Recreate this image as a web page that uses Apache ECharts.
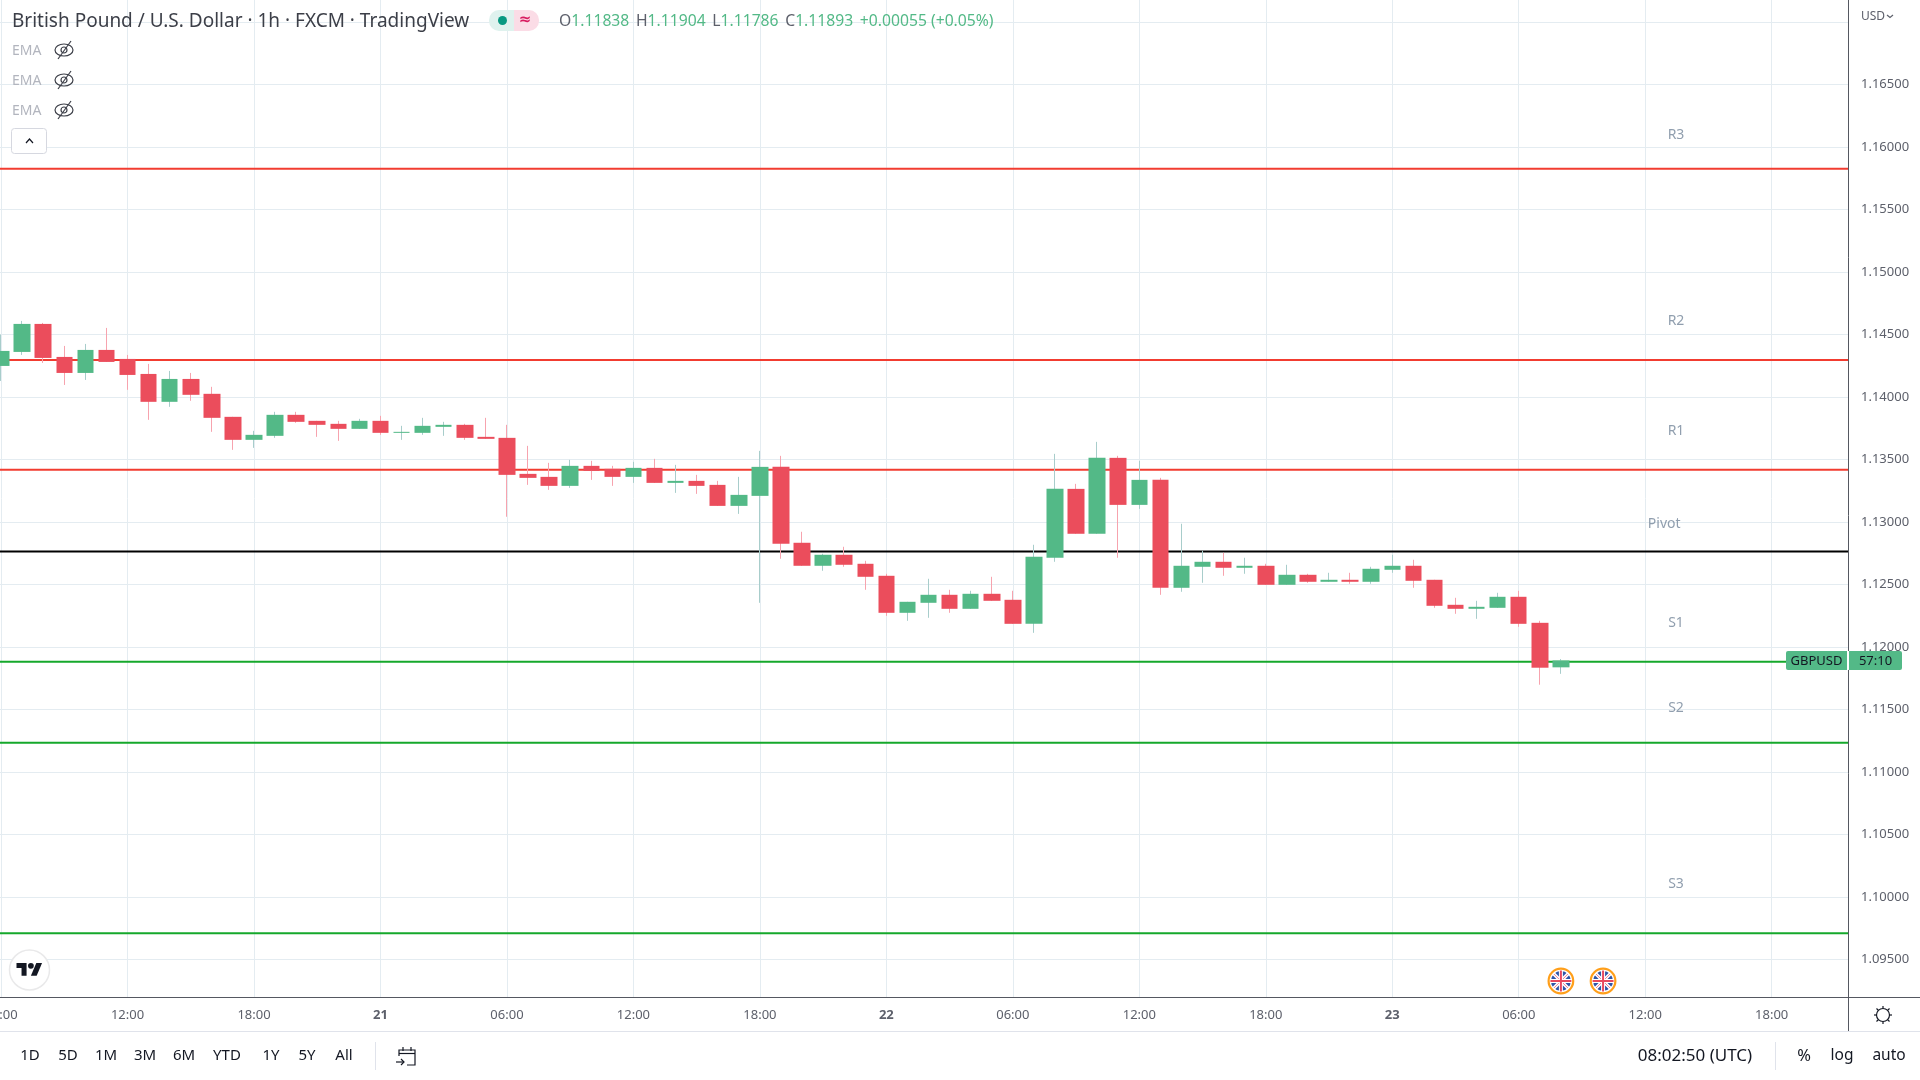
<!DOCTYPE html>
<html>
<head>
<meta charset="utf-8">
<style>html,body{margin:0;padding:0;background:#fff}#chart{width:1920px;height:1080px}</style>
<script src="https://cdn.jsdelivr.net/npm/echarts@6/dist/echarts.min.js"></script>
</head>
<body>
<div id="chart"></div>
<script>
// hours since 06:00 on the 20th
const hours = [0,1,2,3,4,5,6,7,8,9,10,11,12,13,14,15,16,17,18,19,20,21,22,23,24,25,26,27,28,29,30,31,32,33,34,35,36,37,38,39,40,41,42,43,44,45,46,47,48,49,50,51,52,53,54,55,56,57,58,59,60,61,62,63,64,65,66,67,68,69,70,71,72,73,74];
const opens = [1.14248,1.14360,1.14584,1.14320,1.14192,1.14376,1.14304,1.14184,1.13961,1.14144,1.14025,1.13841,1.13657,1.13689,1.13857,1.13809,1.13785,1.13745,1.13809,1.13713,1.13713,1.13761,1.13777,1.13681,1.13673,1.13385,1.13361,1.13289,1.13449,1.13425,1.13361,1.13433,1.13313,1.13329,1.13297,1.13129,1.13209,1.13441,1.12834,1.12650,1.12738,1.12666,1.12570,1.12274,1.12354,1.12418,1.12306,1.12426,1.12378,1.12186,1.12714,1.13265,1.12906,1.13513,1.13137,1.13337,1.12474,1.12642,1.12682,1.12634,1.12650,1.12498,1.12578,1.12522,1.12538,1.12522,1.12618,1.12650,1.12538,1.12338,1.12306,1.12314,1.12402,1.12194,1.11838];
const closes = [1.14368,1.14584,1.14312,1.14192,1.14376,1.14280,1.14176,1.13961,1.14144,1.14017,1.13833,1.13657,1.13697,1.13857,1.13801,1.13777,1.13745,1.13809,1.13713,1.13721,1.13769,1.13777,1.13673,1.13665,1.13377,1.13353,1.13289,1.13449,1.13409,1.13361,1.13433,1.13313,1.13329,1.13289,1.13129,1.13217,1.13441,1.12826,1.12650,1.12738,1.12658,1.12562,1.12274,1.12362,1.12418,1.12306,1.12426,1.12370,1.12186,1.12722,1.13265,1.12906,1.13513,1.13137,1.13337,1.12474,1.12650,1.12682,1.12634,1.12650,1.12498,1.12578,1.12522,1.12538,1.12522,1.12626,1.12650,1.12530,1.12330,1.12306,1.12322,1.12402,1.12186,1.11835,1.11893];
const lows = [1.14128,1.14336,1.14272,1.14096,1.14136,1.14280,1.14057,1.13817,1.13921,1.13969,1.13721,1.13577,1.13593,1.13673,1.13793,1.13681,1.13649,1.13745,1.13697,1.13657,1.13697,1.13689,1.13657,1.13665,1.13042,1.13297,1.13257,1.13273,1.13337,1.13289,1.13313,1.13313,1.13233,1.13225,1.13129,1.13065,1.12354,1.12706,1.12650,1.12610,1.12642,1.12458,1.12250,1.12210,1.12234,1.12274,1.12306,1.12370,1.12186,1.12114,1.12682,1.12906,1.12906,1.12714,1.13105,1.12418,1.12442,1.12514,1.12570,1.12586,1.12498,1.12498,1.12514,1.12522,1.12506,1.12506,1.12594,1.12474,1.12314,1.12266,1.12226,1.12314,1.12162,1.11699,1.11786];
const highs = [1.14499,1.14608,1.14592,1.14408,1.14424,1.14552,1.14336,1.14264,1.14208,1.14192,1.14081,1.13841,1.13729,1.13881,1.13881,1.13809,1.13809,1.13825,1.13849,1.13769,1.13833,1.13801,1.13785,1.13833,1.13777,1.13609,1.13473,1.13497,1.13489,1.13449,1.13481,1.13505,1.13457,1.13377,1.13329,1.13361,1.13569,1.13529,1.12922,1.12746,1.12802,1.12690,1.12586,1.12362,1.12546,1.12458,1.12450,1.12562,1.12450,1.12818,1.13545,1.13305,1.13641,1.13529,1.13489,1.13353,1.12986,1.12770,1.12754,1.12714,1.12666,1.12658,1.12586,1.12594,1.12594,1.12642,1.12738,1.12698,1.12538,1.12394,1.12370,1.12434,1.12450,1.12210,1.11904];

const pivotNames = ["R3","R2","R1","Pivot","S1","S2","S3"];
const pivotPrices = [1.15825,1.14296,1.13417,1.12764,1.11883,1.11235,1.09711];
const pivotLabelPrices = [1.16103,1.14616,1.13737,1.12993,1.12202,1.11518,1.10116];
const pivotLabelHours = [79.46,79.46,79.46,78.9,79.46,79.46,79.46];
const pivotColors = ["#f23c30","#f23c30","#f23c30","#000000","#15a82b","#15a82b","#15a82b"];

const priceTicks = [1.095,1.10,1.105,1.11,1.115,1.12,1.125,1.13,1.135,1.14,1.145,1.15,1.155,1.16,1.165,1.17];
const priceLabels = priceTicks.slice(0,-1);
const timeTicks = [0,6,12,18,24,30,36,42,48,54,60,66,72,78,84];
const timeLabels = ["06:00","12:00","18:00","21","06:00","12:00","18:00","22","06:00","12:00","18:00","23","06:00","12:00","18:00"];
const eventHours = [74,76];
const rangeButtons = ["1D","5D","1M","3M","6M","YTD","1Y","5Y","All"];
const rangeCenters = [30,68,106,145,184,227,271,307,344];
const legendValues = ["1.11838","1.11904","1.11786","1.11893","+0.00055 (+0.05%)"];

const UP = "#53b987", DOWN = "#eb4d5c", UP_WICK = "#a8cdcb", DOWN_WICK = "#f7a3ae";
const AXIS = "#555861", TEXT = "#131722", MUTED = "#5d606b", GRID = "#e4ecf1";
const FONT = '"Noto Sans"';

const chart = echarts.init(document.getElementById("chart"), null, { renderer: "canvas" });

const wickData = hours.map((h, i) => [h, opens[i], closes[i], lows[i], highs[i]]);
const bodyData = hours.map((h, i) => [h, opens[i], closes[i], Math.min(opens[i], closes[i]), Math.max(opens[i], closes[i])]);

const pivotSeries = pivotNames.map((name, i) => ({
  type: "line",
  name: name,
  data: [[-0.05, pivotPrices[i]], [87.62, pivotPrices[i]]],
  showSymbol: false,
  silent: true,
  z: 1,
  lineStyle: { color: pivotColors[i], width: 2 }
}));

const textEl = (text, x, y, style) => ({
  type: "text",
  x: x,
  y: y + 1,
  z: 50,
  silent: true,
  style: Object.assign({ text: text, font: '14px ' + FONT, fill: TEXT, align: "center", verticalAlign: "middle" }, style)
});
const lineEl = (x1, y1, x2, y2, stroke, lineWidth) => ({
  type: "line",
  z: 49,
  silent: true,
  shape: { x1: x1, y1: y1, x2: x2, y2: y2 },
  style: { stroke: stroke, lineWidth: lineWidth || 1 }
});
const polyEl = (points, fill, stroke) => ({
  type: stroke ? "polyline" : "polygon",
  z: 51,
  silent: true,
  shape: { points: points },
  style: stroke ? { fill: "none", stroke: stroke, lineWidth: 1.2 } : { fill: fill }
});

const eyeIcon = y => ({
  type: "group",
  x: 64,
  y: y,
  z: 50,
  silent: true,
  children: [
    { type: "ellipse", shape: { cx: 0, cy: 0, rx: 9, ry: 6 }, style: { fill: "none", stroke: "#3c3f48", lineWidth: 1.2 }, z: 50 },
    { type: "circle", shape: { r: 3 }, style: { fill: "none", stroke: "#3c3f48", lineWidth: 1.2 }, z: 50 },
    { type: "line", shape: { x1: -6, y1: 9, x2: 7, y2: -9 }, style: { stroke: "#3c3f48", lineWidth: 1.2 }, z: 50 }
  ]
});

const flagLine = (x1, y1, x2, y2, stroke, w) => ({ type: "line", shape: { x1: x1, y1: y1, x2: x2, y2: y2 }, style: { stroke: stroke, lineWidth: w }, z: 50 });
const flagIcon = x => ({
  type: "group",
  x: x,
  y: 981,
  z: 50,
  silent: true,
  children: [
    { type: "circle", shape: { r: 12.3 }, style: { fill: "#fff", stroke: "#ff9f1a", lineWidth: 2.2 }, z: 50 },
    { type: "circle", shape: { r: 10 }, style: { fill: "#2f55a8" }, z: 50 },
    flagLine(-7.5, -7.5, 7.5, 7.5, "#fff", 3.4),
    flagLine(-7.5, 7.5, 7.5, -7.5, "#fff", 3.4),
    flagLine(-7, -7, 7, 7, "#ee7f90", 1),
    flagLine(-7, 7, 7, -7, "#ee7f90", 1),
    flagLine(-10.5, 0, 10.5, 0, "#fff", 4),
    flagLine(0, -10.5, 0, 10.5, "#fff", 4),
    flagLine(-10.5, 0, 10.5, 0, "#e8495f", 2),
    flagLine(0, -10.5, 0, 10.5, "#e8495f", 2)
  ]
});

// TradingView mark, unit outline scaled to the corner button
const logoScale = 0.72;
const logoPoints = pts => pts.map(p => [16.5 + p[0] * logoScale, 960 + p[1] * logoScale]);

const chrome = () => {
  const els = [
    // legend row
    textEl("British Pound / U.S. Dollar · 1h · FXCM · TradingView", 12, 21, { align: "left", font: '19px ' + FONT, fill: "#3c3f48" }),
    { type: "rect", z: 50, silent: true, shape: { x: 489, y: 10, width: 25, height: 21, r: [10, 0, 0, 10] }, style: { fill: "#dff2ee" } },
    { type: "rect", z: 50, silent: true, shape: { x: 514, y: 10, width: 25, height: 21, r: [0, 10, 10, 0] }, style: { fill: "#fbdce6" } },
    { type: "circle", z: 51, silent: true, shape: { cx: 502.5, cy: 20.5, r: 4.5 }, style: { fill: "#089981" } },
    textEl("≈", 525, 19, { fill: "#d81b60", font: 'bold 15px "DejaVu Sans"' }),
    {
      type: "text", x: 559, y: 22, z: 50, silent: true,
      style: {
        text: `{k|O}{v|${legendValues[0]}}  {k|H}{v|${legendValues[1]}}  {k|L}{v|${legendValues[2]}}  {k|C}{v|${legendValues[3]}}  {v|${legendValues[4]}}`,
        verticalAlign: "middle",
        rich: {
          k: { fill: "#5d606b", font: '15.7px ' + FONT },
          v: { fill: UP, font: '15.7px ' + FONT }
        }
      }
    },
    textEl("EMA", 12, 50, { align: "left", fill: "#b2b5be", font: '14px ' + FONT }),
    textEl("EMA", 12, 80, { align: "left", fill: "#b2b5be", font: '14px ' + FONT }),
    textEl("EMA", 12, 110, { align: "left", fill: "#b2b5be", font: '14px ' + FONT }),
    eyeIcon(50), eyeIcon(80), eyeIcon(110),
    { type: "rect", z: 50, silent: true, shape: { x: 11.5, y: 128.5, width: 35, height: 25, r: 3 }, style: { fill: "#fff", stroke: "#d6d8e0", lineWidth: 1 } },
    polyEl([[26, 143], [29.5, 139], [33, 143]], null, TEXT),
    // logo
    { type: "circle", z: 50, silent: true, shape: { cx: 29.5, cy: 970, r: 20 }, style: { fill: "#fff", stroke: "#e9e9ea", lineWidth: 1.5 } },
    polyEl(logoPoints([[0, 4], [14, 4], [14, 22], [7, 22], [7, 11], [0, 11]]), TEXT),
    polyEl(logoPoints([[20, 22], [28, 22], [35.5, 4], [27.5, 4]]), TEXT),
    { type: "circle", z: 51, silent: true, shape: { cx: 16.5 + 20 * logoScale, cy: 960 + 8 * logoScale, r: 4 * logoScale }, style: { fill: TEXT } },
    // axis frame
    lineEl(0, 997.5, 1920, 997.5, AXIS),
    lineEl(1848.5, 0, 1848.5, 1031, AXIS),
    lineEl(0, 1031.5, 1920, 1031.5, "#e0e3eb"),
    textEl("USD", 1861, 16, { align: "left", font: '12px ' + FONT, fill: MUTED }),
    polyEl([[1887, 15], [1890, 17.5], [1893, 15]], null, MUTED),
    // settings gear
    { type: "circle", z: 50, silent: true, shape: { cx: 1883, cy: 1015, r: 6.5 }, style: { fill: "none", stroke: TEXT, lineWidth: 1.2 } }
  ];
  [[0, -9, 0, -6.5], [0, 6.5, 0, 9], [-9, 0, -6.5, 0], [6.5, 0, 9, 0], [-6.5, -6.5, -4.6, -4.6], [4.6, 4.6, 6.5, 6.5], [-6.5, 6.5, -4.6, 4.6], [4.6, -4.6, 6.5, -6.5]].forEach(t => {
    els.push(lineEl(1883 + t[0], 1015 + t[1], 1883 + t[2], 1015 + t[3], TEXT, 1.2));
  });
  rangeButtons.forEach((b, i) => els.push(textEl(b, rangeCenters[i], 1055, { font: '15px ' + FONT })));
  els.push(
    lineEl(375.5, 1042, 375.5, 1070, "#e0e3eb"),
    // go-to-date icon
    polyEl([[399, 1056], [399, 1050], [415, 1050], [415, 1065], [407, 1065]], null, TEXT),
    polyEl([[399, 1053.5], [415, 1053.5]], null, TEXT),
    polyEl([[403, 1047], [403, 1051]], null, TEXT),
    polyEl([[411, 1047], [411, 1051]], null, TEXT),
    polyEl([[396, 1062], [404, 1062]], null, TEXT),
    polyEl([[401, 1059], [404, 1062], [401, 1065]], null, TEXT),
    textEl("08:02:50 (UTC)", 1695, 1055, { font: '17px ' + FONT }),
    lineEl(1775.5, 1042, 1775.5, 1070, "#e0e3eb"),
    textEl("%", 1804, 1055, { font: '16.5px ' + FONT }),
    textEl("log", 1842, 1055, { font: '15.5px ' + FONT }),
    textEl("auto", 1889, 1055, { font: '15.5px ' + FONT })
  );
  return els;
};

chart.setOption({
  animation: false,
  backgroundColor: "#ffffff",
  grid: { left: 0, right: 72, top: 0, bottom: 83, outerBoundsMode: "none" },
  xAxis: {
    type: "value",
    min: -0.05,
    max: 87.62,
    axisLine: { show: false },
    axisTick: { show: false, customValues: timeTicks },
    splitLine: { show: true, lineStyle: { color: GRID, width: 1 } },
    axisLabel: {
      customValues: timeTicks,
      margin: 12,
      color: MUTED,
      fontFamily: "Noto Sans",
      fontSize: 13,
      hideOverlap: false,
      formatter: value => {
        const label = timeLabels[timeTicks.indexOf(value)];
        return label.length < 3 ? `{day|${label}}` : label;
      },
      rich: { day: { fontWeight: "bold", color: MUTED, fontFamily: "Noto Sans", fontSize: 13 } }
    }
  },
  yAxis: {
    type: "value",
    position: "right",
    min: 1.09202,
    max: 1.17174,
    axisLine: { show: false },
    axisTick: { show: false, customValues: priceTicks },
    splitLine: { show: true, lineStyle: { color: GRID, width: 1 } },
    axisLabel: {
      customValues: priceLabels,
      margin: 13,
      padding: [4, 0, 0, 0],
      color: MUTED,
      fontFamily: "Noto Sans",
      fontSize: 13,
      showMinLabel: true,
      showMaxLabel: true,
      formatter: value => value.toFixed(5)
    }
  },
  series: pivotSeries.concat([
    {
      type: "candlestick",
      name: "wicks",
      data: wickData,
      barWidth: 1,
      silent: true,
      z: 3,
      itemStyle: { color: UP_WICK, color0: DOWN_WICK, borderColor: UP_WICK, borderColor0: DOWN_WICK, borderWidth: 1 }
    },
    {
      type: "candlestick",
      name: "bodies",
      data: bodyData,
      barWidth: 17,
      silent: true,
      z: 4,
      itemStyle: { color: UP, color0: DOWN, borderColor: UP, borderColor0: DOWN, borderWidth: 0 }
    },
    {
      type: "scatter",
      name: "pivot labels",
      data: pivotNames.map((name, i) => ({ name: name, value: [pivotLabelHours[i], pivotLabelPrices[i]] })),
      symbolSize: 0,
      silent: true,
      z: 5,
      label: {
        show: true,
        position: "inside",
        offset: [0, 1],
        formatter: "{b}",
        color: "#74869a",
        fontFamily: "Noto Sans",
        fontSize: 14
      }
    }
  ])
});

// price tag and event flags sit on the library's scales
const lastY = chart.convertToPixel({ yAxisIndex: 0 }, closes[closes.length - 1]);
chart.setOption({
  graphic: {
    elements: chrome().concat([
      { type: "rect", z: 60, silent: true, shape: { x: 1846, y: lastY - 9.5, width: 4, height: 19 }, style: { fill: "#fff" } },
      { type: "rect", z: 60, silent: true, shape: { x: 1786, y: lastY - 9.5, width: 61, height: 19, r: [2, 0, 0, 2] }, style: { fill: UP } },
      { type: "rect", z: 60, silent: true, shape: { x: 1849, y: lastY - 9.5, width: 53, height: 19, r: [0, 2, 2, 0] }, style: { fill: UP } },
      Object.assign(textEl("GBPUSD", 1816.5, lastY, { font: '13px ' + FONT }), { z: 61 }),
      Object.assign(textEl("57:10", 1875.5, lastY, { font: '13px ' + FONT }), { z: 61 })
    ]).concat(eventHours.map(h => flagIcon(chart.convertToPixel({ xAxisIndex: 0 }, h))))
  }
});
</script>
</body>
</html>
